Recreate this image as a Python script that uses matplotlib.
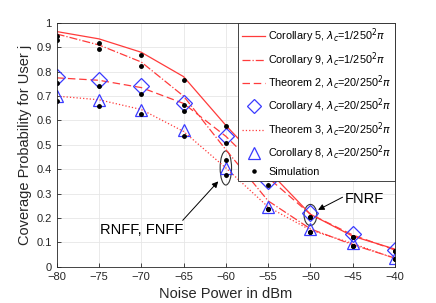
import matplotlib.pyplot as plt
from matplotlib.patches import Ellipse
import numpy as np

noise = [-80, -75, -70, -65, -60, -55, -50, -45, -40]

cor5 = [0.965, 0.935, 0.88, 0.78, 0.58, 0.395, 0.215, 0.125, 0.072]
cor9 = [0.955, 0.91, 0.84, 0.70, 0.48, 0.27, 0.155, 0.09, 0.035]
thm2 = [0.775, 0.765, 0.735, 0.67, 0.535, 0.365, 0.215, 0.13, 0.068]
cor4 = [0.78, 0.765, 0.74, 0.67, 0.538, 0.353, 0.219, 0.133, 0.068]
thm3 = [0.70, 0.685, 0.645, 0.555, 0.405, 0.245, 0.15, 0.095, 0.033]
cor8 = [0.70, 0.685, 0.645, 0.56, 0.405, 0.244, 0.155, 0.096, 0.034]

sim1 = [0.945, 0.92, 0.87, 0.765, 0.577, 0.36, 0.205, 0.123, 0.065]
sim2 = [0.93, 0.895, 0.825, 0.665, 0.506, 0.335, 0.205, 0.12, 0.065]
sim3 = [0.755, 0.74, 0.71, 0.64, 0.438, 0.235, 0.144, 0.085, 0.03]
sim4 = [0.68, 0.66, 0.625, 0.535, 0.376, 0.235, 0.144, 0.085, 0.03]

red = '#ff3b3b'
blue = '#3a3aff'
plt.rcParams['font.family'] = 'Liberation Sans'

fig = plt.figure(figsize=(4.36, 3.03), dpi=100)
ax = fig.add_axes([0.130, 0.120, 0.776, 0.804])

ax.plot(noise, cor5, '-', color=red, lw=0.9, label=r'Corollary 5, $\lambda_c$=1/250$^2\pi$')
ax.plot(noise, cor9, '-.', color=red, lw=0.9, label=r'Corollary 9, $\lambda_c$=1/250$^2\pi$')
ax.plot(noise, thm2, '--', color=red, lw=0.9, dashes=(6, 3), label=r'Theorem 2, $\lambda_c$=20/250$^2\pi$')
ax.plot(noise, cor4, 'D', color=blue, mfc='none', ms=8, mew=0.9, label=r'Corollary 4, $\lambda_c$=20/250$^2\pi$')
ax.plot(noise, thm3, ':', color=red, lw=0.9, label=r'Theorem 3, $\lambda_c$=20/250$^2\pi$')
ax.plot(noise, cor8, '^', color=blue, mfc='none', ms=9, mew=0.9, label=r'Corollary 8, $\lambda_c$=20/250$^2\pi$')
ax.plot(noise, sim1, '.', color='black', ms=5, label='Simulation')
for s in (sim2, sim3, sim4):
    ax.plot(noise, s, '.', color='black', ms=5)

# circled groups and their labels
ax.add_patch(Ellipse((-60, 0.405), 1.35, 0.14, fill=False, ec='#333333', lw=0.8))
ax.add_patch(Ellipse((-50, 0.212), 1.5, 0.087, fill=False, ec='#333333', lw=0.8))
ax.text(-69.9, 0.15, 'RNFF, FNFF', fontsize=10.5, ha='center', va='center')
ax.text(-43.6, 0.276, 'FNRF', fontsize=10.5, ha='center', va='center')
arrow = dict(arrowstyle='-|>', color='black', lw=0.7, shrinkA=0, shrinkB=0, mutation_scale=9)
ax.annotate('', xy=(-60.9, 0.35), xytext=(-65.1, 0.19), arrowprops=arrow)
ax.annotate('', xy=(-49.1, 0.233), xytext=(-46.2, 0.285), arrowprops=arrow)

ax.set_xlim(-80, -40)
ax.set_ylim(0, 1)
ax.set_xticks(np.arange(-80, -39, 5))
ax.set_yticks(np.arange(0, 1.01, 0.1))
ax.set_yticklabels(['0', '0.1', '0.2', '0.3', '0.4', '0.5', '0.6', '0.7', '0.8', '0.9', '1'])
ax.tick_params(direction='in', labelsize=8, colors='#262626', length=3, width=0.6)
ax.grid(True, color='#e6e6e6', lw=0.6)
ax.set_axisbelow(True)
for sp in ax.spines.values():
    sp.set_color('#262626')
    sp.set_linewidth(0.6)
ax.set_xlabel('Noise Power in dBm', fontsize=10.5, color='#262626', labelpad=4)
ax.set_ylabel('Coverage Probability for User j', fontsize=10.5, color='#262626', labelpad=3)

leg = ax.legend(loc='upper right', fontsize=7.8, handlelength=2.1, labelspacing=0.45,
                fancybox=False, edgecolor='#262626', framealpha=1, borderaxespad=0,
                handletextpad=0.3, borderpad=0.35, markerscale=0.9)
leg.get_frame().set_linewidth(0.6)

plt.savefig('out.png', dpi=100)
